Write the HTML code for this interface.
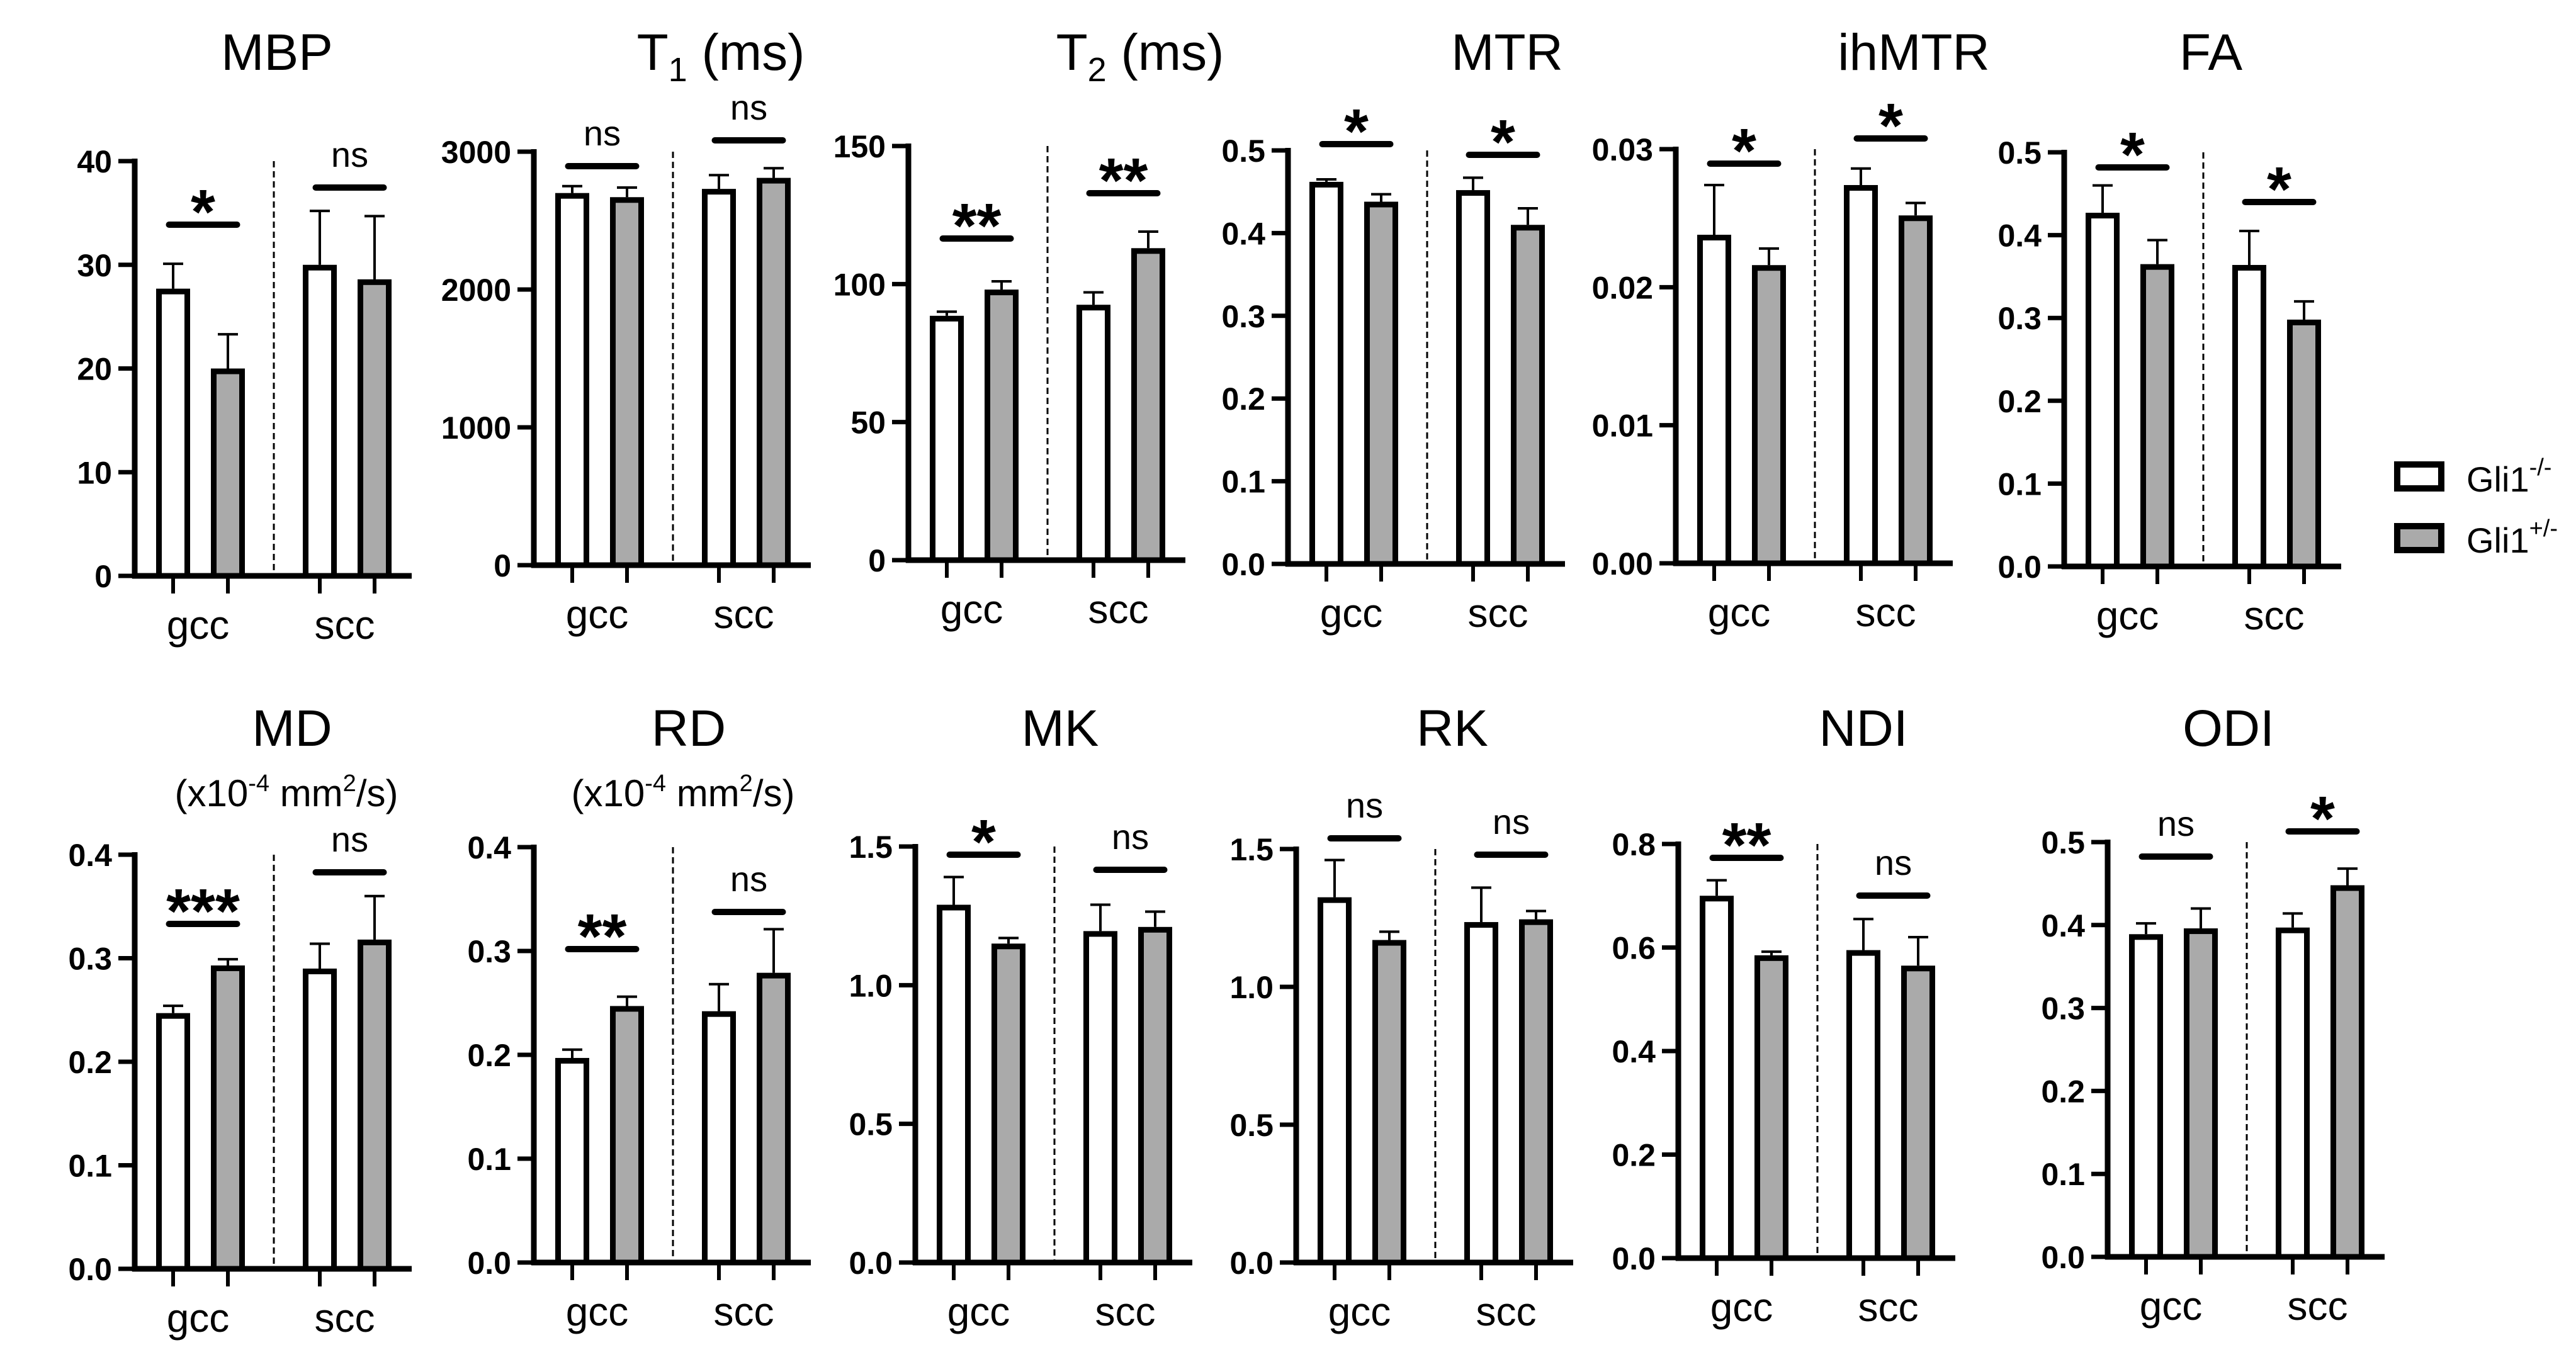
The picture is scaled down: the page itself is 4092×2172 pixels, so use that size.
<!DOCTYPE html>
<html>
<head>
<meta charset="utf-8">
<style>
html,body{margin:0;padding:0;background:#fff;}
svg{display:block;}
text{font-family:"Liberation Sans",Arial,sans-serif;fill:#000;}
.tick{font-weight:bold;font-size:50px;}
.title{font-size:82px;}
.cat{font-size:64px;}
.ns{font-size:56px;}
.star{font-size:100px;font-weight:bold;}
</style>
</head>
<body>
<svg id="fig" width="4092" height="2172" viewBox="0 0 4092 2172" xmlns="http://www.w3.org/2000/svg">
  <g id="panels"></g>
  <g id="legend">
    <g>
      <rect x="3808" y="738" width="70" height="38" fill="#fff" stroke="#000" stroke-width="10"/>
      <text x="3918" y="781" font-size="56">Gli1<tspan font-size="38" dy="-26">-/-</tspan></text>
    </g>
    <g>
      <rect x="3808" y="836" width="70" height="38" fill="#aaa" stroke="#000" stroke-width="10"/>
      <text x="3918" y="878" font-size="56">Gli1<tspan font-size="38" dy="-26">+/-</tspan></text>
    </g>
  </g>
</svg>
<script>
// ---- data ----
const categories = ['gcc', 'scc'];
const groups = ['Gli1-/-', 'Gli1+/-'];
const panelNames = ['MBP','T1','T2','MTR','ihMTR','FA','MD','RD','MK','RK','NDI','ODI'];
// bar values order: [gcc Gli1-/-, gcc Gli1+/-, scc Gli1-/-, scc Gli1+/-]
const mbpValues = [27.7, 20.0, 30.0, 28.6];
const mbpErrors = [30.1, 23.3, 35.2, 34.7];
const t1Values = [2700, 2670, 2730, 2810];
const t1Errors = [2750, 2740, 2830, 2880];
const t2Values = [88.5, 98, 92.5, 113];
const t2Errors = [90, 101, 97, 119];
const mtrValues = [0.462, 0.438, 0.452, 0.41];
const mtrErrors = [0.465, 0.447, 0.467, 0.43];
const ihmtrValues = [0.0238, 0.0216, 0.0274, 0.0252];
const ihmtrErrors = [0.0274, 0.0228, 0.0286, 0.0261];
const faValues = [0.427, 0.365, 0.364, 0.298];
const faErrors = [0.46, 0.394, 0.405, 0.32];
const mdValues = [0.247, 0.293, 0.29, 0.318];
const mdErrors = [0.254, 0.299, 0.314, 0.36];
const rdValues = [0.197, 0.247, 0.242, 0.279];
const rdErrors = [0.205, 0.256, 0.268, 0.321];
const mkValues = [1.29, 1.15, 1.195, 1.21];
const mkErrors = [1.39, 1.17, 1.29, 1.265];
const rkValues = [1.325, 1.17, 1.235, 1.245];
const rkErrors = [1.46, 1.2, 1.36, 1.275];
const ndiValues = [0.70, 0.585, 0.595, 0.565];
const ndiErrors = [0.73, 0.592, 0.655, 0.62];
const odiValues = [0.389, 0.396, 0.397, 0.448];
const odiErrors = [0.402, 0.42, 0.414, 0.468];
const axisMax = [40, 3000, 150, 0.5, 0.03, 0.5, 0.4, 0.4, 1.5, 1.5, 0.8, 0.5];
const tickStep = [10, 1000, 50, 0.1, 0.01, 0.1, 0.1, 0.1, 0.5, 0.5, 0.2, 0.1];
const tickDecimals = [0, 0, 0, 1, 2, 1, 1, 1, 1, 1, 1, 1];
const sigLabels = [['*','ns'],['ns','ns'],['**','**'],['*','*'],['*','*'],['*','*'],
                   ['***','ns'],['**','ns'],['*','ns'],['ns','ns'],['**','ns'],['ns','*']];
const allValues = [mbpValues,t1Values,t2Values,mtrValues,ihmtrValues,faValues,mdValues,rdValues,mkValues,rkValues,ndiValues,odiValues];
const allErrors = [mbpErrors,t1Errors,t2Errors,mtrErrors,ihmtrErrors,faErrors,mdErrors,rdErrors,mkErrors,rkErrors,ndiErrors,odiErrors];

// ---- layout ----
const layout = [
  {ax:214, yTop:256, y0:915, sig:[357,298], tx:440, ty:111},
  {ax:848, yTop:241, y0:898, sig:[264,223], tx:1145, ty:111},
  {ax:1443, yTop:232, y0:890, sig:[379,307], tx:1811, ty:111},
  {ax:2046, yTop:239, y0:896, sig:[229,246], tx:2394, ty:111},
  {ax:2662, yTop:237, y0:895, sig:[260,220], tx:3040, ty:111},
  {ax:3279, yTop:242, y0:900, sig:[266,321], tx:3512, ty:111},
  {ax:214, yTop:1358, y0:2016, sig:[1468,1386], tx:464, ty:1185, sub:455},
  {ax:848, yTop:1346, y0:2006, sig:[1508,1449], tx:1094, ty:1185, sub:1085},
  {ax:1454, yTop:1345, y0:2006, sig:[1358,1382], tx:1684, ty:1185},
  {ax:2059, yTop:1349, y0:2006, sig:[1332,1358], tx:2307, ty:1185},
  {ax:2666, yTop:1341, y0:1999, sig:[1363,1423], tx:2960, ty:1185},
  {ax:3348, yTop:1338, y0:1997, sig:[1361,1321], tx:3540, ty:1185}
];
const barOffsets = [61, 148, 294, 381];
const NS = 'http://www.w3.org/2000/svg';
function mk(tag, attrs, parent){
  const e = document.createElementNS(NS, tag);
  for (const k in attrs) e.setAttribute(k, attrs[k]);
  parent.appendChild(e);
  return e;
}
const root = document.getElementById('panels');

panelNames.forEach((name, p) => {
  const L = layout[p];
  const vals = allValues[p], errs = allErrors[p];
  const max = axisMax[p];
  const yS = v => L.y0 - (v / max) * (L.y0 - L.yTop);
  const g = mk('g', {}, root);
  
  

  // title
  const t = mk('text', {x:L.tx, y:L.ty, 'text-anchor':'middle', class:'title'}, g);
  
  
  if (name === 'T1' || name === 'T2') {
    t.textContent = 'T';
    const s = mk('tspan', {'font-size':'54', dy:'18'}, t);
    s.textContent = name[1];
    const r = mk('tspan', {dy:'-18'}, t);
    r.textContent = ' (ms)';
  } else t.textContent = name;
  if (L.sub) {
    const st = mk('text', {x:L.sub, y:1281, 'text-anchor':'middle', 'font-size':'60'}, g);
    
    
    st.innerHTML = '(x10<tspan font-size="38" dy="-24">-4</tspan><tspan dy="24"> mm</tspan><tspan font-size="38" dy="-24">2</tspan><tspan dy="24">/s)</tspan>';
  }

  // bars + error bars
  vals.forEach((v, i) => {
    const cx = L.ax + barOffsets[i];
    const y = yS(v);
    const b = mk('rect', {x:cx-22.5, y:y+4.5, width:45, height:Math.max(0, L.y0 - y - 4.5),
      fill: i % 2 ? '#aaa' : '#fff', stroke:'#000', 'stroke-width':9}, g);
    
    
    const ye = yS(errs[i]);
    const el = mk('path', {d:`M${cx},${y} V${ye} M${cx-16},${ye} H${cx+16}`, stroke:'#000', 'stroke-width':4, fill:'none'}, g);
    
    
    const xt = mk('line', {x1:cx, y1:L.y0, x2:cx, y2:L.y0+28, stroke:'#000', 'stroke-width':6}, g);
    
    
  });

  // divider
  const dv = mk('line', {x1:L.ax+221, y1:L.yTop, x2:L.ax+221, y2:L.y0, stroke:'#000', 'stroke-width':3, 'stroke-dasharray':'10 6'}, g);
  
  

  // axes
  const ya = mk('line', {x1:L.ax, y1:L.yTop-4, x2:L.ax, y2:L.y0+4, stroke:'#000', 'stroke-width':9}, g);
  
  
  const xa = mk('line', {x1:L.ax-4, y1:L.y0, x2:L.ax+440, y2:L.y0, stroke:'#000', 'stroke-width':9}, g);
  
  
  const n = Math.round(max / tickStep[p]);
  for (let k = 0; k <= n; k++) {
    const v = k * tickStep[p];
    const y = yS(v);
    const tk = mk('line', {x1:L.ax-26, y1:y, x2:L.ax, y2:y, stroke:'#000', 'stroke-width':7}, g);
    
    
    const tl = mk('text', {x:L.ax-36, y:y+18, 'text-anchor':'end', class:'tick'}, g);
    
    
    tl.textContent = v.toFixed(tickDecimals[p]);
  }

  // category labels + significance
  categories.forEach((c, j) => {
    const gc = L.ax + (barOffsets[2*j] + barOffsets[2*j+1]) / 2;
    const cl = mk('text', {x:gc-4, y:L.y0+100, 'text-anchor':'middle', class:'cat'}, g);
    
    
    cl.textContent = c;
    const sy = L.sig[j];
    const sl = mk('line', {x1:gc-50, y1:sy, x2:gc+58, y2:sy, stroke:'#000', 'stroke-width':10, 'stroke-linecap':'round'}, g);
    
    
    const lab = sigLabels[p][j];
    const st = mk('text', {x:gc+4, y: lab === 'ns' ? sy-33 : sy+14, 'text-anchor':'middle', class: lab === 'ns' ? 'ns' : 'star'}, g);
    
    
    st.textContent = lab;
  });
});
</script>
</body>
</html>
